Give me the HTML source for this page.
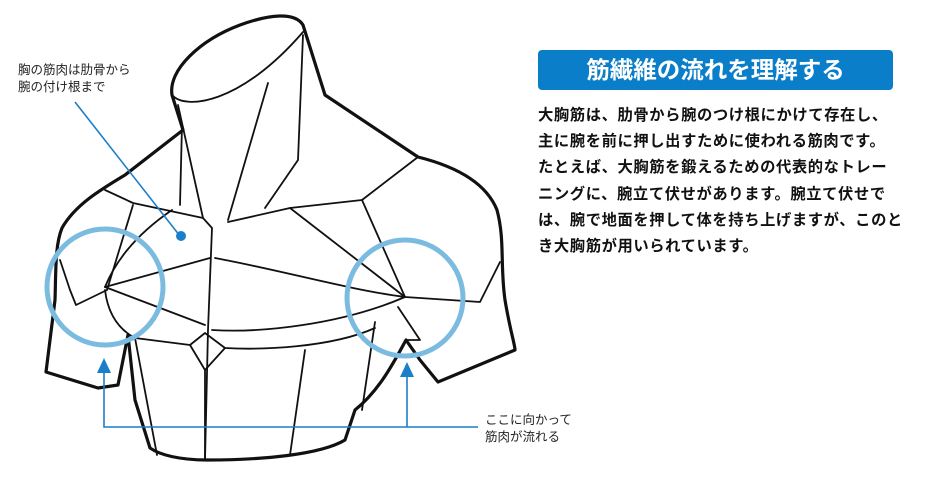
<!DOCTYPE html>
<html><head><meta charset="utf-8"><style>
html,body{margin:0;padding:0;background:#fff;}
body{width:932px;height:481px;position:relative;overflow:hidden;font-family:"Liberation Sans","Noto Sans CJK JP",sans-serif;}
.t{position:absolute;color:#222;}
</style></head><body>
<svg width="932" height="481" style="position:absolute;left:0;top:0">
<g fill="none" stroke="#111" stroke-linejoin="round" stroke-linecap="round">
<path stroke-width="3.2" d="M183,130 L172,95 C168,70 200,40 240,25 C270,14 295,12 303,25 L325,95 L418,157 C450,165 485,180 497,210 C505,240 500,265 505,300 C510,330 515,345 515,350 L438,382 L420,360 L406,340 C395,360 380,390 355,410 L345,440 C320,455 260,460 207,460 C180,460 160,455 150,448 L135,400 L128,335 L118,385 L98,388 L46,372 L55,300 C56,270 55,245 62,228 C75,205 100,190 125,175 Z"/>
<g stroke-width="1.8">
<path d="M172,95 C185,110 240,105 303,32"/>
<path d="M178,105 L203,218"/>
<path d="M303,35 L298,160 L265,208"/>
<path d="M268,83 L228,220"/>
<path d="M182,125 L180,205"/>
<path d="M105,190 L133,203 L203,218 L212,228 L208,330 L205,460"/>
<path d="M133,205 L107,290 L76,305 L70,290 L60,260"/>
<path d="M172,210 C150,225 120,250 105,287"/>
<path d="M105,287 L210,258"/>
<path d="M105,287 L205,325"/>
<path d="M105,290 C108,315 120,330 135,338 L190,345 L205,333 L225,348 C260,350 330,348 375,328"/>
<path d="M228,222 L290,208 L362,200 L418,157"/>
<path d="M290,208 L405,297"/>
<path d="M362,200 L405,297 L480,302 L500,262"/>
<path d="M215,258 C280,270 350,290 405,297"/>
<path d="M212,330 C260,333 340,325 405,297"/>
<path d="M225,348 L205,370 L205,460"/>
<path d="M190,345 L205,370"/>
<path d="M135,338 L157,455"/>
<path d="M305,350 L290,455"/>
<path d="M375,322 L362,410"/>
<path d="M398,307 L420,340 L406,340"/>
</g>
</g>
<circle cx="105" cy="287" r="58" fill="none" stroke="#7cbbe0" stroke-width="5"/>
<circle cx="405" cy="298" r="58" fill="none" stroke="#7cbbe0" stroke-width="5"/>
<g stroke="#1a7fc8" stroke-width="1.6" fill="none">
<path d="M104,370 L104,427 L478,427"/>
<path d="M407,370 L407,427"/>
<path d="M75,102 L180,236"/>
</g>
<g fill="#1a7fc8">
<polygon points="104,358 97,373 111,373"/>
<polygon points="407,362 400,377 414,377"/>
<circle cx="181" cy="236" r="5"/>
</g>
<rect x="538" y="50" width="355" height="40" rx="4" fill="#0a7ec8"/>
</svg>
<div class="t" style="left:18px;top:62px;font-size:12.5px;line-height:17px;">胸の筋肉は肋骨から<br>腕の付け根まで</div>
<div class="t" style="left:485px;top:412px;font-size:12.5px;line-height:17px;">ここに向かって<br>筋肉が流れる</div>
<div class="t" style="left:538px;top:54px;width:355px;text-align:center;color:#fff;font-weight:bold;font-size:23.5px;line-height:32px;">筋繊維の流れを理解する</div>
<div class="t" style="left:538px;top:103px;font-size:15.3px;letter-spacing:0.6px;font-weight:bold;line-height:26.2px;color:#111;white-space:nowrap;">大胸筋は、肋骨から腕のつけ根にかけて存在し、<br>主に腕を前に押し出すために使われる筋肉です。<br>たとえば、大胸筋を鍛えるための代表的なトレー<br>ニングに、腕立て伏せがあります。腕立て伏せで<br>は、腕で地面を押して体を持ち上げますが、このと<br>き大胸筋が用いられています。</div>
</body></html>
